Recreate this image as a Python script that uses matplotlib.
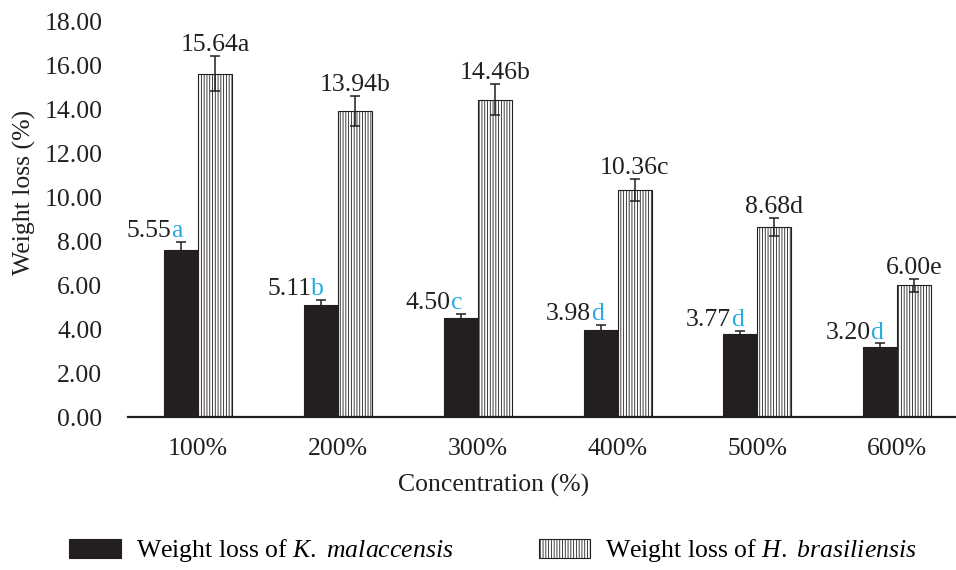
import matplotlib
matplotlib.use("Agg")
import matplotlib.pyplot as plt
import numpy as np

plt.rcParams["font.family"] = ["Liberation Serif", "DejaVu Serif"]
plt.rcParams["mathtext.fontset"] = "custom"
plt.rcParams["mathtext.rm"] = "Liberation Serif"
plt.rcParams["mathtext.it"] = "Liberation Serif:italic"
plt.rcParams["hatch.linewidth"] = 0.6

# --- data ---
concentrations = ["100%", "200%", "300%", "400%", "500%", "600%"]
kmal_heights = [7.60, 5.11, 4.50, 3.98, 3.77, 3.20]   # drawn bar heights
kmal_err = [0.38, 0.24, 0.18, 0.20, 0.15, 0.15]
kmal_values = ["5.55", "5.11", "4.50", "3.98", "3.77", "3.20"]
kmal_letters = ["a", "b", "c", "d", "d", "d"]

hbra_heights = [15.64, 13.94, 14.46, 10.36, 8.68, 6.00]
hbra_err = [0.80, 0.70, 0.70, 0.50, 0.41, 0.30]
hbra_labels = ["15.64a", "13.94b", "14.46b", "10.36c", "8.68d", "6.00e"]

FS = 18.5
DARK = "#231F20"
BLUE = "#29ABE2"

fig = plt.figure(figsize=(9.56, 5.70), dpi=100)
ax = fig.add_axes([128 / 956, 1 - 417 / 570, 1 - 128 / 956, (417 - 22) / 570])

x = np.arange(len(concentrations))
w = 0.243
ekw = dict(ecolor=DARK, elinewidth=1.1, capsize=3.6, capthick=1.1)
ax.bar(x - w / 2, kmal_heights, w, color=DARK, edgecolor=DARK, linewidth=0.8,
       yerr=kmal_err, error_kw=ekw,
       label=r"Weight loss of $\mathit{K.}$ $\mathit{malaccensis}$")
ax.bar(x + w / 2, hbra_heights, w, color="white", edgecolor=DARK, linewidth=0.8,
       hatch="||||||", yerr=hbra_err, error_kw=ekw,
       label=r"Weight loss of $\mathit{H.}$ $\mathit{brasiliensis}$")

# data labels: black number + blue letter for K. malaccensis
for i in range(len(x)):
    top = kmal_heights[i] + kmal_err[i]
    ax.annotate(kmal_values[i], (x[i] - w / 2, top), xytext=(-7, 3.5),
                textcoords="offset points", ha="right", va="baseline",
                fontsize=FS, color=DARK)
    ax.annotate(kmal_letters[i], (x[i] - w / 2, top), xytext=(-7, 3.5),
                textcoords="offset points", ha="left", va="baseline",
                fontsize=FS, color=BLUE)
    top = hbra_heights[i] + hbra_err[i]
    ax.annotate(hbra_labels[i], (x[i] + w / 2, top), xytext=(0, 3.5),
                textcoords="offset points", ha="center", va="baseline",
                fontsize=FS, color=DARK)

ax.set_xlim(-0.5, 5.42)
ax.set_ylim(0, 18)
ax.set_yticks(np.arange(0, 18.01, 2))
ax.set_yticklabels([f"{v:.2f}" for v in np.arange(0, 18.01, 2)])
ax.set_xticks(x)
ax.set_xticklabels(concentrations)
ax.tick_params(axis="y", length=0, pad=18.5, labelsize=FS, labelcolor=DARK)
ax.tick_params(axis="x", length=0, pad=15, labelsize=FS, labelcolor=DARK)

for s in ["left", "right", "top"]:
    ax.spines[s].set_visible(False)
ax.spines["bottom"].set_linewidth(1.6)
ax.spines["bottom"].set_color(DARK)

ax.set_xlabel("Concentration (%)", fontsize=FS, color=DARK)
ax.xaxis.set_label_coords((494 - 128) / 828, -(474 - 417) / 395)
ax.set_ylabel("Weight loss (%)", fontsize=FS, color=DARK)
ax.yaxis.set_label_coords(-(128 - 36) / 828, (417 - 192) / 395)

fig.legend(loc="center", bbox_to_anchor=(0.516, 1 - 551 / 570), ncol=2,
           frameon=False, fontsize=FS, handlelength=2.0, handleheight=0.8,
           handletextpad=0.6, columnspacing=3.3)

fig.savefig("out.png", dpi=100)
